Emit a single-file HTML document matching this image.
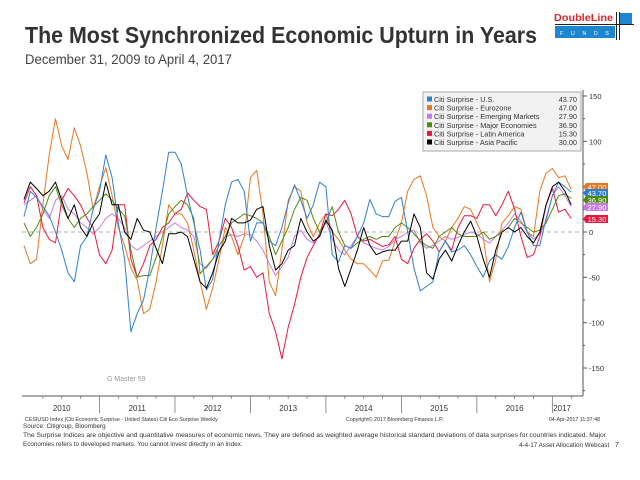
<!DOCTYPE html>
<html><head><meta charset="utf-8"><style>
html,body{margin:0;padding:0;background:#fff;}
svg{display:block;font-family:"Liberation Sans",sans-serif;}
</style></head><body>
<svg id="chart" width="640" height="480" viewBox="0 0 640 480">
<text x="25" y="43" font-size="23" font-weight="bold" fill="#333" textLength="512" lengthAdjust="spacingAndGlyphs">The Most Synchronized Economic Upturn in Years</text>
<text x="25" y="64" font-size="13.5" fill="#444" textLength="207" lengthAdjust="spacingAndGlyphs">December 31, 2009 to April 4, 2017</text>
<g>
<text x="554" y="21" font-size="10.5" font-weight="bold" fill="#d9262b" textLength="59" lengthAdjust="spacingAndGlyphs">DoubleLine</text>
<rect x="555" y="26" width="60" height="12" fill="#1c86d0"/>
<text x="560" y="35" font-size="5.5" fill="#fff" letter-spacing="7.5">FUNDS</text>
<line x1="555" y1="24.5" x2="634" y2="24.5" stroke="#222" stroke-width="1"/>
<line x1="616.5" y1="12" x2="616.5" y2="40" stroke="#222" stroke-width="1"/>
<line x1="619.5" y1="12" x2="619.5" y2="40" stroke="#222" stroke-width="1"/>
<rect x="620" y="13" width="12" height="11" fill="#1c86d0"/>
</g>
<line x1="22" y1="232" x2="582" y2="232" stroke="#999" stroke-dasharray="4,3" stroke-width="0.8"/>
<g id="series"></g>
<line x1="583" y1="90" x2="583" y2="396" stroke="#555" stroke-width="1"/>
<g id="yticks"></g>
<line x1="22" y1="396" x2="583" y2="396" stroke="#555" stroke-width="1"/>
<g id="xticks"></g>
<g id="tags"></g>
<g id="legend"></g>
<text x="107" y="381" font-size="7" fill="#999">G Master 59</text>
<text x="25" y="421" font-size="5.3" fill="#333">CESIUSD Index (Citi Economic Surprise - United States) Citi Eco Surprise  Weekly</text>
<text x="346" y="421" font-size="5.3" fill="#333">Copyright© 2017 Bloomberg Finance L.P.</text>
<text x="600" y="421" font-size="5.3" fill="#333" text-anchor="end">04-Apr-2017 11:37:48</text>
<text x="23" y="428" font-size="6.3" fill="#333">Source: Citigroup, Bloomberg</text>
<text x="23" y="437" font-size="6.3" fill="#333" textLength="583" lengthAdjust="spacingAndGlyphs">The Surprise Indices are objective and quantitative measures of economic news. They are defined as weighted average historical standard deviations of data surprises for countries indicated. Major</text>
<text x="23" y="446" font-size="6.3" fill="#333">Economies refers to developed markets. You cannot invest directly in an index.</text>
<text x="519" y="447" font-size="6.3" fill="#333">4-4-17 Asset Allocation Webcast</text>
<text x="615" y="447" font-size="7" fill="#333">7</text>
</svg>
<script>
const seriesNames = ["Citi Surprise - U.S.","Citi Surprise - Eurozone","Citi Surprise - Emerging Markets","Citi Surprise - Major Economies","Citi Surprise - Latin America","Citi Surprise - Asia Pacific"];
const lastValues = ["43.70","47.00","27.90","36.90","15.30","30.00"];
const years = ["2010","2011","2012","2013","2014","2015","2016","2017"];
const yTicks = [150,100,50,0,-50,-100,-150];
const usValues = [17,45,38,28,18,0,-20,-45,-55,-15,-5,25,45,85,60,10,-30,-110,-90,-75,-40,5,45,88,88,75,40,10,-20,-64,-52,-10,30,55,58,45,-10,10,10,-10,-15,5,32,52,35,15,30,55,50,-25,-33,-15,-18,-5,10,36,20,17,17,34,38,0,-40,-65,-60,-55,-22,-10,-22,-20,-15,-25,-38,-50,-32,-25,-30,-16,5,22,0,-15,-15,15,40,55,50,44];
const euroValues = [-15,-35,-30,30,85,125,95,80,115,95,65,25,50,71,40,5,-15,-40,-53,-90,-85,-55,-15,30,20,20,10,-20,-55,-85,-62,-30,5,-5,-25,-5,60,68,20,-55,-70,-20,35,50,45,10,-5,10,20,0,-8,-20,-30,-35,-35,-42,-50,-32,-31,-10,10,45,58,62,40,5,-5,-10,5,15,28,25,10,-5,-55,-30,10,18,28,25,0,-5,45,65,70,60,62,47];
const emValues = [30,35,40,25,15,35,40,25,20,10,5,-2,5,15,20,15,5,-15,-20,-15,-10,-5,0,5,10,5,2,-5,-35,-40,-30,-22,-5,-3,-5,-2,-3,-10,-20,-35,-48,-38,-28,-5,2,-8,-12,-5,12,-8,-20,-25,-15,-5,-12,-15,-18,-20,-16,-8,-5,0,2,-12,-18,-15,-10,-5,-8,-6,-3,0,-2,-8,-12,-5,2,10,20,12,0,-8,-2,12,40,50,40,28];
const majorValues = [10,-5,5,20,40,50,30,15,5,15,20,28,35,42,35,25,18,-20,-50,-48,-48,-28,-5,20,28,35,30,15,-46,-38,-30,-15,-5,10,15,20,18,15,10,-5,-25,-10,5,25,38,35,15,0,10,28,0,-15,-18,-12,-8,-5,-8,-5,-5,5,10,5,-2,-10,-15,-18,-5,0,5,-2,-5,-5,-5,0,-8,-5,0,5,15,10,5,0,2,10,25,40,42,37];
const latamValues = [32,50,40,5,-8,-12,35,48,40,30,15,5,-25,-35,-20,30,30,-30,-50,-35,-15,-8,5,10,20,25,43,35,28,25,-25,-10,15,5,-15,-42,-38,-50,-45,-90,-110,-140,-105,-80,-50,-28,-15,-2,20,18,25,35,20,-5,-10,-8,-12,-16,-14,-5,-30,-35,-18,-8,-2,-10,-22,-10,-20,5,18,18,15,30,30,18,30,45,25,-5,-28,-25,-5,30,48,22,25,15];
const asiaValues = [36,55,48,40,45,55,35,15,30,5,-5,10,20,55,30,30,0,-8,15,2,0,-18,-35,-2,-2,0,-5,-30,-55,-62,-45,-22,-10,15,10,10,13,25,28,-15,-42,-35,-20,-15,15,0,-10,-5,13,2,-40,-60,-40,-20,5,-15,-25,-22,-20,-20,-10,-10,20,5,-45,-52,-30,-20,-32,-15,0,12,-5,-30,-50,-20,0,5,0,5,-5,-12,0,30,50,55,45,30];

const colors = ["#2f7fd0","#e8771e","#c77ae8","#4f8a10","#e8173f","#000000"];
const allSeries = [usValues,euroValues,emValues,majorValues,latamValues,asiaValues];
const NS = "http://www.w3.org/2000/svg";
function xScale(i){ return 24 + i*6.29; }
function yScale(v){ return 232 - v*0.9067; }
function mk(tag, attrs, parent){ const e=document.createElementNS(NS,tag); for(const k in attrs) e.setAttribute(k,attrs[k]); parent.appendChild(e); return e; }

const sg = document.getElementById("series");
const drawOrder = [2,1,4,3,0,5];
drawOrder.forEach(function(s){
  const vals = allSeries[s];
  const d = vals.map(function(v,i){ return (i?"L":"M")+xScale(i).toFixed(1)+","+yScale(v).toFixed(1); }).join("");
  const p = mk("path",{d:d,fill:"none",stroke:colors[s],"stroke-width":"1","stroke-linejoin":"round"},sg);
  
  
});

const yt = document.getElementById("yticks");
yTicks.forEach(function(t){
  const y = yScale(t);
  mk("line",{x1:583,y1:y,x2:587,y2:y,stroke:"#555"},yt);
  const tx = mk("text",{x:589,y:y+3,"font-size":"7.5",fill:"#333"},yt);
  tx.textContent = t;
  
  
});
for(let v=-175; v<=125; v+=50){ mk("line",{x1:583,y1:yScale(v),x2:585,y2:yScale(v),stroke:"#555"},yt); }

const xt = document.getElementById("xticks");
years.forEach(function(yr,k){
  const x0 = xScale(k*12);
  if(k>0) mk("line",{x1:x0,y1:396,x2:x0,y2:413,stroke:"#777","stroke-width":"0.8"},xt);
  const x1 = k<7 ? xScale(k*12+12) : xScale(87.1);
  const tx = mk("text",{x:(x0+x1)/2,y:411,"font-size":"8","text-anchor":"middle",fill:"#333"},xt);
  tx.textContent = yr;
  
  
  for(let q=1;q<4;q++){ const xm=xScale(k*12+q*3); if(xm<582) mk("line",{x1:xm,y1:396,x2:xm,y2:399,stroke:"#777","stroke-width":"0.8"},xt); }
});

const tg = document.getElementById("tags");
const tagY = [193,187,207,200,219];
const tagOrder = [1,0,3,2,4];
tagOrder.forEach(function(s){
  const y = tagY[s];
  const poly = mk("path",{d:"M583,"+y+"L586,"+(y-4)+"L608,"+(y-4)+"L608,"+(y+4)+"L586,"+(y+4)+"Z",fill:colors[s]},tg);
  
  
  const tx = mk("text",{x:597,y:y+3,"font-size":"7.5","text-anchor":"middle",fill:"#fff"},tg);
  tx.textContent = lastValues[s];
  
  
});

const lg = document.getElementById("legend");
const box = mk("rect",{x:423,y:92,width:158,height:59,fill:"#f2f2f2",stroke:"#aaa","stroke-width":"1"},lg);


seriesNames.forEach(function(n,s){
  const y = 101 + s*8.6;
  mk("rect",{x:427,y:y-4.5,width:5,height:5,fill:colors[s]},lg);
  const t = mk("text",{x:434,y:y+1,"font-size":"7.3",fill:"#333"},lg);
  t.textContent = n;
  
  
  const v = mk("text",{x:577,y:y+1,"font-size":"7.3",fill:"#333","text-anchor":"end"},lg);
  v.textContent = lastValues[s];
  
  
});
</script>
</body></html>
